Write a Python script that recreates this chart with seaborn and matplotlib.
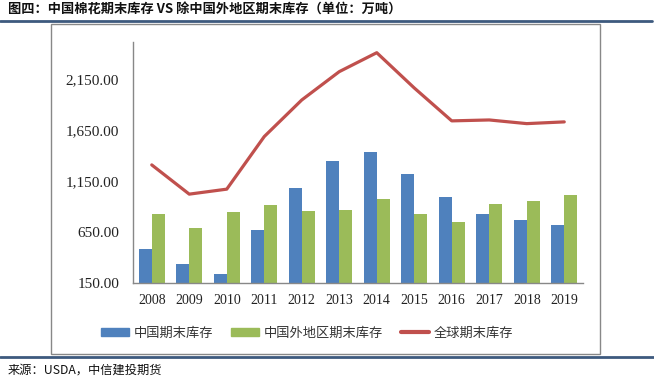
import matplotlib as mpl
import matplotlib.pyplot as plt
from matplotlib.patches import Rectangle
from matplotlib.lines import Line2D
import seaborn as sns
import pandas as pd
import numpy as np

sns.set_style("white")
plt.rcParams['font.family'] = ['Noto Sans CJK SC', 'DejaVu Sans']

years = ['2008', '2009', '2010', '2011', '2012', '2013',
         '2014', '2015', '2016', '2017', '2018', '2019']
china_stock = [486, 332, 238, 675, 1087, 1352, 1434, 1224, 993, 826, 773, 721]
row_stock = [826, 689, 842, 917, 859, 871, 979, 829, 751, 930, 954, 1018]
world_stock = [1309, 1022, 1071, 1587, 1946, 2224, 2410, 2064, 1741, 1750, 1714, 1731]
yticks = [150, 650, 1150, 1650, 2150]

names = ['中国期末库存', '中国外地区期末库存', '全球期末库存']
colors = ['#4f81bd', '#9bbb59', '#c0504d']

df = pd.DataFrame({
    'year': years * 2,
    'value': china_stock + row_stock,
    'series': [names[0]] * len(years) + [names[1]] * len(years),
})

fig = plt.figure(figsize=(6.54, 3.79), dpi=100)
ax = fig.add_axes([133 / 654, 1 - 283 / 379, 450 / 654, 241 / 379])

sns.barplot(data=df, x='year', y='value', hue='series', palette=colors[:2],
            width=0.7, gap=0, saturation=1, ax=ax, legend=False, edgecolor='none')
sns.lineplot(x=np.arange(len(years)), y=world_stock, color=colors[2],
             linewidth=2.3, ax=ax)

ax.set_xlim(-0.5, len(years) - 0.5)
ax.set_ylim(150, 2515)
ax.set_yticks(yticks)
ax.set_yticklabels([f'{v:,.2f}' for v in yticks], family='Liberation Serif', fontsize=11)
ax.set_xticks(range(len(years)))
ax.set_xticklabels(years, family='Liberation Serif', fontsize=10)
ax.tick_params(axis='both', length=0, colors='#222222')
ax.tick_params(axis='y', pad=10)
ax.tick_params(axis='x', pad=8)
ax.set_xlabel('')
ax.set_ylabel('')
for s in ['top', 'right']:
    ax.spines[s].set_visible(False)
for s in ['left', 'bottom']:
    ax.spines[s].set_color('#888888')
    ax.spines[s].set_linewidth(1)
ax.patch.set_alpha(0)

# legend
handles = [Rectangle((0, 0), 1, 1, color=colors[0]),
           Rectangle((0, 0), 1, 1, color=colors[1]),
           Line2D([], [], color=colors[2], linewidth=3)]
fig.legend(handles, names, loc='center', bbox_to_anchor=(307 / 654, 1 - 333 / 379),
           ncol=3, frameon=False, fontsize=9.5, handlelength=2.1,
           handleheight=0.55, handletextpad=0.35, columnspacing=1.4,
           labelcolor='#333333')

# outer frame and header / footer bars
fig.add_artist(Rectangle((50.7 / 654, 1 - 354 / 379), 549.3 / 654, 329.7 / 379,
                         transform=fig.transFigure, fill=False,
                         edgecolor='#888888', linewidth=1))
fig.add_artist(Line2D([0, 652 / 654], [1 - 21.3 / 379] * 2, transform=fig.transFigure,
                      color='#3d5a7e', linewidth=2))
fig.add_artist(Line2D([0, 1], [1 - 357.3 / 379] * 2, transform=fig.transFigure,
                      color='#3d5a7e', linewidth=2))

fig.text(8 / 654, 1 - 10 / 379, '图四：中国棉花期末库存 VS 除中国外地区期末库存（单位：万吨）',
         fontsize=9.5, fontweight='bold', va='center', ha='left', color='#111111')
fig.text(8 / 654, 1 - 370 / 379, '来源：USDA，中信建投期货',
         fontsize=8.8, style='italic', va='center', ha='left', color='#111111')

fig.savefig('out.png', dpi=100)
